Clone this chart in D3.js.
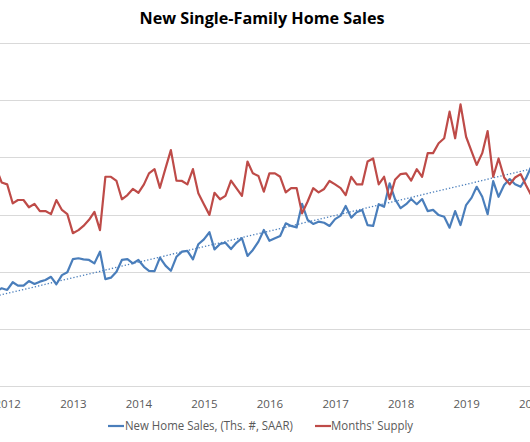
<!DOCTYPE html>
<html>
<head>
<meta charset="utf-8">
<script src="https://cdn.jsdelivr.net/npm/d3@7"></script>
<style>
  html, body { margin: 0; padding: 0; background: #fff; }
  svg { display: block; }
</style>
</head>
<body>
<svg id="chart" width="530" height="442"></svg>
<script>
// ---- DATA ----
const chartTitle = "New Single-Family Home Sales";
const firstMonth = "2011-11"; // first monthly observation
const newHomeSales = [ // thousands, SAAR
  330, 342,
  336, 363, 351, 351, 367, 357, 365, 371, 382, 356, 388, 398,
  444, 447, 443, 441, 429, 470, 374, 379, 400, 441, 444, 429,
  441, 417, 403, 402, 449, 421, 403, 452, 470, 473, 443, 496,
  513, 538, 478, 497, 501, 479, 501, 517, 455, 476, 505, 546,
  508, 517, 525, 569, 560, 555, 637, 581, 567, 575, 571, 560,
  584, 596, 630, 589, 608, 616, 563, 560, 636, 627, 709, 654,
  622, 636, 654, 636, 654, 612, 616, 598, 592, 554, 612, 563,
  633, 659, 697, 662, 601, 717, 662, 703, 724, 706, 697, 727,
  770
];
const monthsSupply = [
  5.72, 5.34,
  5.29, 4.79, 4.88, 4.88, 4.69, 4.78, 4.59, 4.59, 4.51, 4.88, 4.62, 4.51,
  4.01, 4.09, 4.20, 4.36, 4.57, 4.09, 5.49, 5.49, 5.38, 4.90, 5.01, 5.17,
  5.07, 5.29, 5.58, 5.69, 5.20, 5.71, 6.19, 5.39, 5.38, 5.29, 5.69, 5.06,
  4.77, 4.49, 5.07, 4.90, 4.99, 5.39, 5.19, 4.99, 5.89, 5.58, 5.51, 5.10,
  5.58, 5.58, 5.49, 5.08, 5.19, 5.19, 4.53, 4.84, 5.19, 5.08, 5.17, 5.38,
  5.29, 5.19, 5.01, 5.49, 5.29, 5.29, 5.89, 5.97, 5.29, 5.49, 4.91, 5.41,
  5.56, 5.58, 5.39, 5.69, 5.49, 6.11, 6.11, 6.37, 6.50, 7.20, 6.50, 7.39,
  6.54, 6.15, 5.80, 6.11, 6.69, 5.49, 5.97, 5.47, 5.29, 5.47, 5.56, 5.27,
  4.99
];
// linear trend of sales: value at first and last month
const salesTrend = [315, 760];
const yearLabels = ["2012","2013","2014","2015","2016","2017","2018","2019","2020"];
const salesTicks = [0, 200, 400, 600, 800, 1000, 1200];
const supplyDomain = [0, 9];
const legendLabels = ["New Home Sales, (Ths. #, SAAR)", "Months' Supply"];

// ---- CHART ----
const W = 530, H = 442;
const svg = d3.select("#chart");
const blue = "#4a7ebb", red = "#be4b48";

const parseMonth = d3.timeParse("%Y-%m");
const start = parseMonth(firstMonth);
const dates = newHomeSales.map((_, i) => d3.timeMonth.offset(start, i));

const x = d3.scaleTime()
  .domain([new Date(2012, 0, 1), new Date(2019, 0, 1)])
  .range([7.2, 7.2 + 84 * 5.463]);
const yL = d3.scaleLinear().domain([0, 1200]).range([386, 43]);
const yR = d3.scaleLinear().domain(supplyDomain).range([386, 43]);

// gridlines
svg.append("g")
  .selectAll("line")
  .data(salesTicks)
  .join("line")
  .attr("x1", 0).attr("x2", W)
  .attr("y1", d => Math.round(yL(d)) + 0.5)
  .attr("y2", d => Math.round(yL(d)) + 0.5)
  .attr("stroke", "#d9d9d9")
  .attr("stroke-width", 1);

// x axis labels
const xAxis = d3.axisBottom(x)
  .tickValues(yearLabels.map(y => new Date(+y, 0, 1)))
  .tickFormat((d, i) => yearLabels[i])
  .tickSize(0);
const gx = svg.append("g").attr("transform", "translate(0,386)").call(xAxis);
gx.select(".domain").remove();
gx.selectAll("text")
  .attr("dy", 0)
  .attr("y", 22)
  .attr("fill", "#595959")
  .style("font-family", "'Open Sans', sans-serif")
  .style("font-size", "11.5px");

// series
const sales = dates.map((d, i) => ({ d, v: newHomeSales[i] }));
const supply = dates.map((d, i) => ({ d, v: monthsSupply[i] }));

svg.append("path")
  .datum(sales)
  .attr("fill", "none")
  .attr("stroke", blue)
  .attr("stroke-width", 2.2)
  .attr("stroke-linejoin", "round")
  .attr("d", d3.line().x(p => x(p.d)).y(p => yL(p.v)));

// trend line
const trendPts = [
  { d: dates[0], v: salesTrend[0] },
  { d: dates[dates.length - 1], v: salesTrend[1] }
];
svg.append("path")
  .datum(trendPts)
  .attr("fill", "none")
  .attr("stroke", blue)
  .attr("stroke-width", 1.3)
  .attr("stroke-dasharray", "1.3,2")
  .attr("d", d3.line().x(p => x(p.d)).y(p => yL(p.v)));

svg.append("path")
  .datum(supply)
  .attr("fill", "none")
  .attr("stroke", red)
  .attr("stroke-width", 2.2)
  .attr("stroke-linejoin", "round")
  .attr("d", d3.line().x(p => x(p.d)).y(p => yR(p.v)));

// title
svg.append("text")
  .attr("x", 262).attr("y", 24)
  .attr("text-anchor", "middle")
  .attr("fill", "#000")
  .attr("textLength", 245)
  .attr("lengthAdjust", "spacingAndGlyphs")
  .style("font-family", "'Open Sans', sans-serif")
  .style("font-weight", "bold")
  .style("font-size", "16px")
  .text(chartTitle);

// legend
const legend = [
  { label: legendLabels[0], color: blue, x0: 108, tx: 125, tw: 168 },
  { label: legendLabels[1], color: red, x0: 315, tx: 331, tw: 82 }
];
const lg = svg.append("g");
legend.forEach(l => {
  lg.append("line")
    .attr("x1", l.x0).attr("x2", l.x0 + 16)
    .attr("y1", 426).attr("y2", 426)
    .attr("stroke", l.color).attr("stroke-width", 2.2);
  lg.append("text")
    .attr("x", l.tx).attr("y", 430)
    .attr("fill", "#595959")
    .attr("textLength", l.tw)
    .attr("lengthAdjust", "spacingAndGlyphs")
    .style("font-family", "'Open Sans', sans-serif")
    .style("font-size", "12px")
    .text(l.label);
});
</script>
</body>
</html>
